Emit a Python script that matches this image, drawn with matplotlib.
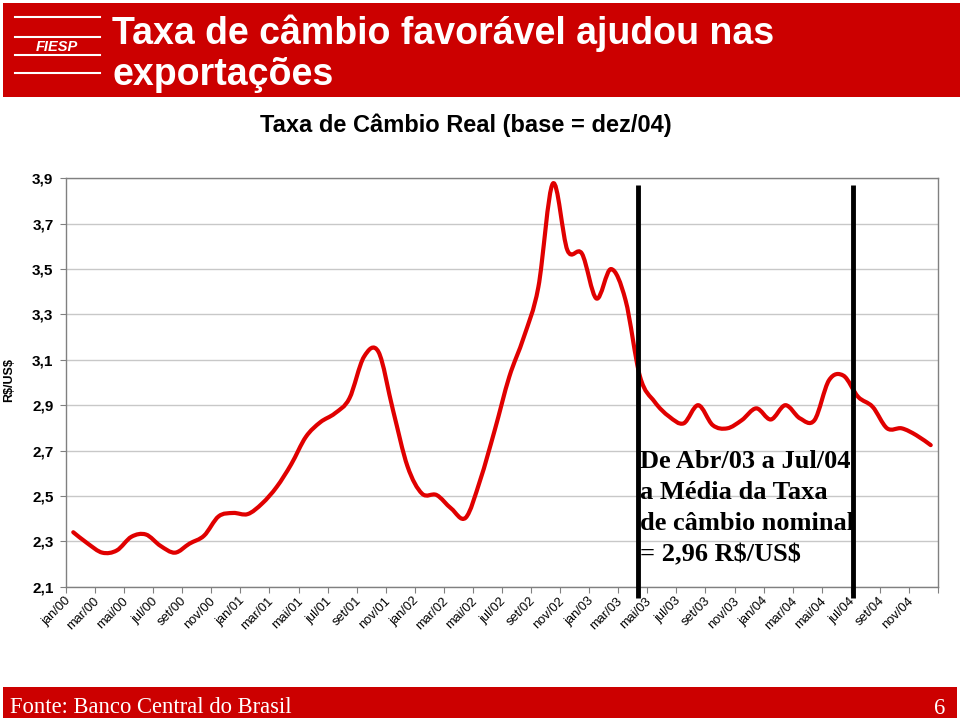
import matplotlib
matplotlib.use('Agg')
import matplotlib.pyplot as plt
import matplotlib.transforms as mtransforms
from matplotlib.path import Path
from matplotlib.patches import PathPatch, Rectangle
from matplotlib.lines import Line2D

# ---------------- data ----------------
months = ['jan', 'fev', 'mar', 'abr', 'mai', 'jun', 'jul', 'ago', 'set', 'out', 'nov', 'dez']
years = ['00', '01', '02', '03', '04']
categories = [f'{m}/{y}' for y in years for m in months]

taxa_real = [2.34, 2.29, 2.25, 2.26, 2.32, 2.33, 2.28, 2.25, 2.29, 2.325,
             2.41, 2.425, 2.42, 2.467, 2.54, 2.64, 2.76, 2.825, 2.864, 2.93,
             3.113, 3.135, 2.878, 2.63, 2.51, 2.504, 2.445, 2.404, 2.57, 2.79,
             3.025, 3.20, 3.42, 3.877, 3.583, 3.568, 3.37, 3.50, 3.363, 3.025,
             2.915, 2.85, 2.82, 2.90, 2.812, 2.798, 2.834, 2.886, 2.837, 2.90,
             2.842, 2.834, 3.01, 3.03, 2.937, 2.893, 2.798, 2.798, 2.768, 2.724]

y_ticks = [2.1, 2.3, 2.5, 2.7, 2.9, 3.1, 3.3, 3.5, 3.7, 3.9]
y_tick_labels = [f'{v:.1f}'.replace('.', ',') for v in y_ticks]

title_lines = ['Taxa de câmbio favorável ajudou nas', 'exportações']
subtitle = 'Taxa de Câmbio Real (base = dez/04)'
ylabel = r'R\$/US\$'
note_lines = ['De Abr/03 a Jul/04', 'a Média da Taxa', 'de câmbio nominal',
              r'= 2,96 R\$/US\$']
source = 'Fonte: Banco Central do Brasil'
page = '6'

RED = '#CC0000'
SANS = 'Liberation Sans'
SERIF = 'Liberation Serif'

fig = plt.figure(figsize=(9.6, 7.2), dpi=100)
W, H = 960, 720

def fx(px):
    return px / W

def fy(py):
    return 1 - py / H

# ---------------- header ----------------
fig.patches.append(Rectangle((fx(3), fy(97)), fx(957), 94 / H, transform=fig.transFigure,
                             facecolor=RED, edgecolor='none', zorder=0))
for ly in [17, 37, 55, 73]:
    fig.lines.append(Line2D([fx(15), fx(100)], [fy(ly), fy(ly)], transform=fig.transFigure,
                            color='white', lw=1.5))
fig.text(fx(57), fy(47), 'FIESP', color='white', fontsize=10.5, fontweight='bold',
         fontstyle='italic', family=SANS, ha='center', va='center')
fig.text(fx(112), fy(44), title_lines[0], color='white', fontsize=27, fontweight='bold',
         family=SANS, ha='left', va='baseline')
fig.text(fx(112), fy(85), title_lines[1], color='white', fontsize=27, fontweight='bold',
         family=SANS, ha='left', va='baseline')

fig.text(fx(466), fy(132), subtitle, color='black', fontsize=17, fontweight='bold',
         family=SANS, ha='center', va='baseline')

fig.text(fx(9), fy(380), ylabel, color='black', fontsize=9, fontweight='bold',
         family=SANS, ha='center', va='center', rotation=90)

# ---------------- axes ----------------
ax = fig.add_axes([fx(66), fy(586.7), (938 - 66) / W, (586.7 - 178.3) / H])
n = len(taxa_real)
x = list(range(n))

# smooth (Excel-like) curve through the data points
pts = list(zip(x, taxa_real))
verts = [pts[0]]
codes = [Path.MOVETO]
for i in range(n - 1):
    p0 = pts[i - 1] if i > 0 else pts[i]
    p1 = pts[i]
    p2 = pts[i + 1]
    p3 = pts[i + 2] if i + 2 < n else pts[i + 1]
    c1 = (p1[0] + (p2[0] - p0[0]) / 6, p1[1] + (p2[1] - p0[1]) / 6)
    c2 = (p2[0] - (p3[0] - p1[0]) / 6, p2[1] - (p3[1] - p1[1]) / 6)
    verts += [c1, c2, p2]
    codes += [Path.CURVE4, Path.CURVE4, Path.CURVE4]
ax.add_patch(PathPatch(Path(verts, codes), facecolor='none', edgecolor='#E00000',
                       lw=3, capstyle='round', joinstyle='round', zorder=3))

ax.set_xlim(-0.5, n - 0.5)
ax.set_ylim(2.1, 3.9)
ax.set_yticks(y_ticks)
ax.set_yticklabels(y_tick_labels, fontsize=11, fontweight='bold', family=SANS)
ax.tick_params(axis='y', length=4, width=0.8, color='#808080', pad=5)
ax.grid(axis='y', color='#C8C8C8', lw=1)
ax.set_axisbelow(True)

ax.set_xticks(x[::2])
ax.set_xticklabels(categories[::2], rotation=45, ha='right', va='top',
                   rotation_mode='anchor', fontsize=9.3, family=SANS)
ax.tick_params(axis='x', which='major', length=0, pad=6)
shift = mtransforms.ScaledTranslation(-0.09, 0, fig.dpi_scale_trans)
for lbl in ax.get_xticklabels():
    lbl.set_transform(lbl.get_transform() + shift)
ax.set_xticks([i - 0.5 for i in range(0, n + 1, 2)], minor=True)
ax.tick_params(axis='x', which='minor', length=4, width=0.8, color='#808080')

for s in ax.spines.values():
    s.set_color('#808080')
    s.set_linewidth(1)

# vertical marker lines (Abr/03 and Jul/04)
for xv in [38.85, 53.64]:
    ax.plot([xv, xv], [3.87, 2.05], color='black', lw=3.5, clip_on=False, zorder=4,
            solid_capstyle='butt')

for k, line in enumerate(note_lines):
    fig.text(fx(640), fy(468 + 31 * k), line, family=SERIF, fontsize=19, fontweight='bold',
             ha='left', va='baseline', zorder=5)

# ---------------- footer ----------------
fig.patches.append(Rectangle((fx(3), fy(718)), fx(954), 31 / H, transform=fig.transFigure,
                             facecolor=RED, edgecolor='none', zorder=0))
fig.text(fx(10), fy(713), source, color='white', fontsize=16.3, family=SERIF,
         ha='left', va='baseline')
fig.text(fx(945), fy(714), page, color='white', fontsize=16.3, family=SERIF,
         ha='right', va='baseline')

fig.savefig('out.png', dpi=100)
